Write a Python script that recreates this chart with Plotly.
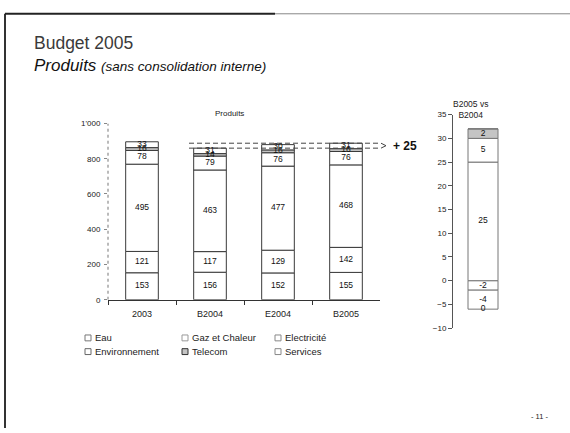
import plotly.graph_objects as go

# ---- data -------------------------------------------------------------
periodes = ["2003", "B2004", "E2004", "B2005"]
secteurs = ["Eau", "Gaz et Chaleur", "Electricité", "Environnement", "Telecom", "Services"]

eau = [153, 156, 152, 155]
gaz_chaleur = [121, 117, 129, 142]
electricite = [495, 463, 477, 468]
environnement = [78, 79, 76, 76]
telecom = [16, 14, 16, 16]
services = [33, 31, 30, 31]

# B2005 vs B2004, by sector (same order as secteurs)
ecart_b2005_b2004 = [-2, 25, 5, -4, 2, 0]
ecart_label = "+ 25"

y_tickvals = [0, 200, 400, 600, 800, 1000]
y_ticktext = ["0", "200", "400", "600", "800", "1'000"]
y2_tickvals = [-10, -5, 0, 5, 10, 15, 20, 25, 30, 35]

# ---- styles -----------------------------------------------------------
W, H = 570, 433
FONT = "Liberation Sans, Arial, sans-serif"
INK = "#222222"
fills = ["#ffffff", "#ffffff", "#ffffff", "#ffffff", "#c4c4c4", "#ffffff"]
legend_edges = ["#777777", "#999999", "#888888", "#666666", "#333333", "#888888"]


def px(x):
    return x / W


def py(y):
    return 1 - y / H


series = [eau, gaz_chaleur, electricite, environnement, telecom, services]

fig = go.Figure()

# ---- main stacked chart ----------------------------------------------
bases = [0] * len(periodes)
label_x, label_y, label_t = [], [], []
for name, vals, fill in zip(secteurs, series, fills):
    fig.add_trace(go.Bar(
        x=periodes, y=vals, name=name, width=0.48,
        marker=dict(color=fill, line=dict(color="#3a3a3a", width=1)),
        xaxis="x", yaxis="y", showlegend=False, hoverinfo="skip",
    ))
    for i, v in enumerate(vals):
        label_x.append(periodes[i])
        label_y.append(bases[i] + v / 2)
        label_t.append(str(v))
        bases[i] += v

fig.add_trace(go.Scatter(
    x=label_x, y=label_y, text=label_t, mode="text",
    textfont=dict(family=FONT, size=8.5, color="#111111"),
    xaxis="x", yaxis="y", showlegend=False, hoverinfo="skip", cliponaxis=False,
))

totaux = bases[:]

# ---- variance chart ---------------------------------------------------
pos_base, neg_base = 0, 0
ex, ey, et = [], [], []
for name, v, fill in zip(secteurs, ecart_b2005_b2004, fills):
    fig.add_trace(go.Bar(
        x=[0], y=[v], name=name, width=0.5,
        marker=dict(color=fill, line=dict(color="#777777", width=1)),
        xaxis="x2", yaxis="y2", showlegend=False, hoverinfo="skip",
    ))
    if v > 0:
        ey.append(pos_base + v / 2)
        pos_base += v
    else:
        ey.append(neg_base + v / 2)
        neg_base += v
    ex.append(0)
    et.append(str(v))

fig.add_trace(go.Scatter(
    x=ex, y=ey, text=et, mode="text",
    textfont=dict(family=FONT, size=8.5, color="#111111"),
    xaxis="x2", yaxis="y2", showlegend=False, hoverinfo="skip", cliponaxis=False,
))

# ---- axes -------------------------------------------------------------
tick_font = dict(family=FONT, size=8, color=INK)
fig.update_layout(
    width=W, height=H,
    margin=dict(l=0, r=0, t=0, b=0),
    paper_bgcolor="white", plot_bgcolor="white",
    barmode="relative",
    xaxis=dict(
        domain=[px(108), px(380)], type="category", range=[-0.5, 3.5],
        showline=True, linecolor="#333333", linewidth=1,
        ticks="outside", tickson="boundaries", ticklen=4, tickcolor="#333333",
        ticklabelstandoff=5,
        tickfont=dict(family=FONT, size=9, color=INK), showgrid=False, zeroline=False,
    ),
    yaxis=dict(
        domain=[py(302), py(122)], range=[0, 1000],
        tickvals=y_tickvals, ticktext=y_ticktext, tickfont=tick_font,
        ticks="outside", ticklen=3, tickcolor="#888888", ticklabelstandoff=2,
        showline=False, showgrid=False, zeroline=False,
    ),
    xaxis2=dict(domain=[px(453), px(513)], range=[-0.5, 0.5], visible=False),
    yaxis2=dict(
        domain=[py(331), py(113)], range=[-10, 35], anchor="x2",
        tickvals=y2_tickvals, tickfont=tick_font,
        showline=True, linecolor="#555555", linewidth=1,
        ticks="outside", ticklen=4, tickcolor="#555555",
        showgrid=False, zeroline=False,
    ),
)

shapes = []
annotations = []

# dashed left axis line of the main chart
shapes.append(dict(type="line", xref="paper", yref="y", x0=px(108), x1=px(108),
                   y0=0, y1=1000, line=dict(color="#777777", width=1, dash="3px,3px")))

# dashed guides B2004 -> B2005 totals with a closing chevron
t_b2004 = totaux[periodes.index("B2004")]
t_b2005 = totaux[periodes.index("B2005")]
for t in (t_b2004, t_b2005):
    shapes.append(dict(type="line", xref="paper", yref="y", x0=px(189), x1=px(381),
                       y0=t, y1=t, line=dict(color="#444444", width=1, dash="5px,3px")))
mid = (t_b2004 + t_b2005) / 2
shapes.append(dict(type="path", xref="paper", yref="y",
                   path=f"M {px(381)},{t_b2005} L {px(386)},{mid} L {px(381)},{t_b2004}",
                   line=dict(color="#444444", width=1)))
annotations.append(dict(text=f"<b>{ecart_label}</b>", xref="paper", yref="y",
                        x=px(391), y=mid, xanchor="left", yanchor="middle", showarrow=False,
                        font=dict(family=FONT, size=12, color="#111111")))

# chart titles
annotations.append(dict(text="Produits", xref="paper", yref="paper", x=px(229), y=py(112),
                        xanchor="center", yanchor="middle", showarrow=False,
                        font=dict(family=FONT, size=8, color=INK)))
annotations.append(dict(text="B2005 vs<br>B2004", xref="paper", yref="paper", x=px(470),
                        y=py(108), xanchor="center", yanchor="middle", showarrow=False,
                        font=dict(family=FONT, size=8.5, color=INK)))

# page header
annotations.append(dict(text="Budget 2005", xref="paper", yref="paper", x=px(32), y=py(40),
                        xanchor="left", yanchor="middle", showarrow=False,
                        font=dict(family=FONT, size=17.5, color="#3a3a3a")))
annotations.append(dict(
    text="<i>Produits</i> <i><span style='font-size:13.5px'>(sans consolidation interne)</span></i>",
    xref="paper", yref="paper", x=px(32), y=py(63), xanchor="left", yanchor="middle",
    showarrow=False, font=dict(family=FONT, size=17, color="#111111")))

# page number
annotations.append(dict(text="- 11 -", xref="paper", yref="paper", x=px(539), y=py(421),
                        xanchor="center", yanchor="middle", showarrow=False,
                        font=dict(family=FONT, size=7.5, color=INK)))

# legend (3 columns x 2 rows)
leg_cols = [88, 185, 278]
leg_rows = [341, 355]
for k, (name, fill, edge) in enumerate(zip(secteurs, fills, legend_edges)):
    cx = leg_cols[k % 3]
    cy = leg_rows[k // 3]
    shapes.append(dict(type="rect", xref="paper", yref="paper",
                       x0=px(cx - 3), x1=px(cx + 3), y0=py(cy + 3), y1=py(cy - 3),
                       fillcolor=fill, line=dict(color=edge, width=1)))
    annotations.append(dict(text=name, xref="paper", yref="paper", x=px(cx + 5), y=py(cy),
                            xanchor="left", yanchor="middle", showarrow=False,
                            font=dict(family=FONT, size=9.5, color=INK)))

# page frame
shapes.append(dict(type="line", xref="paper", yref="paper", x0=px(5), x1=px(5),
                   y0=py(10), y1=0, line=dict(color="#333333", width=2)))
shapes.append(dict(type="line", xref="paper", yref="paper", x0=px(5), x1=px(275),
                   y0=py(10), y1=py(10), line=dict(color="#222222", width=2)))
shapes.append(dict(type="line", xref="paper", yref="paper", x0=px(275), x1=1,
                   y0=py(10), y1=py(10), line=dict(color="#888888", width=1)))

fig.update_layout(shapes=shapes, annotations=annotations)
fig.write_html("out.html")
